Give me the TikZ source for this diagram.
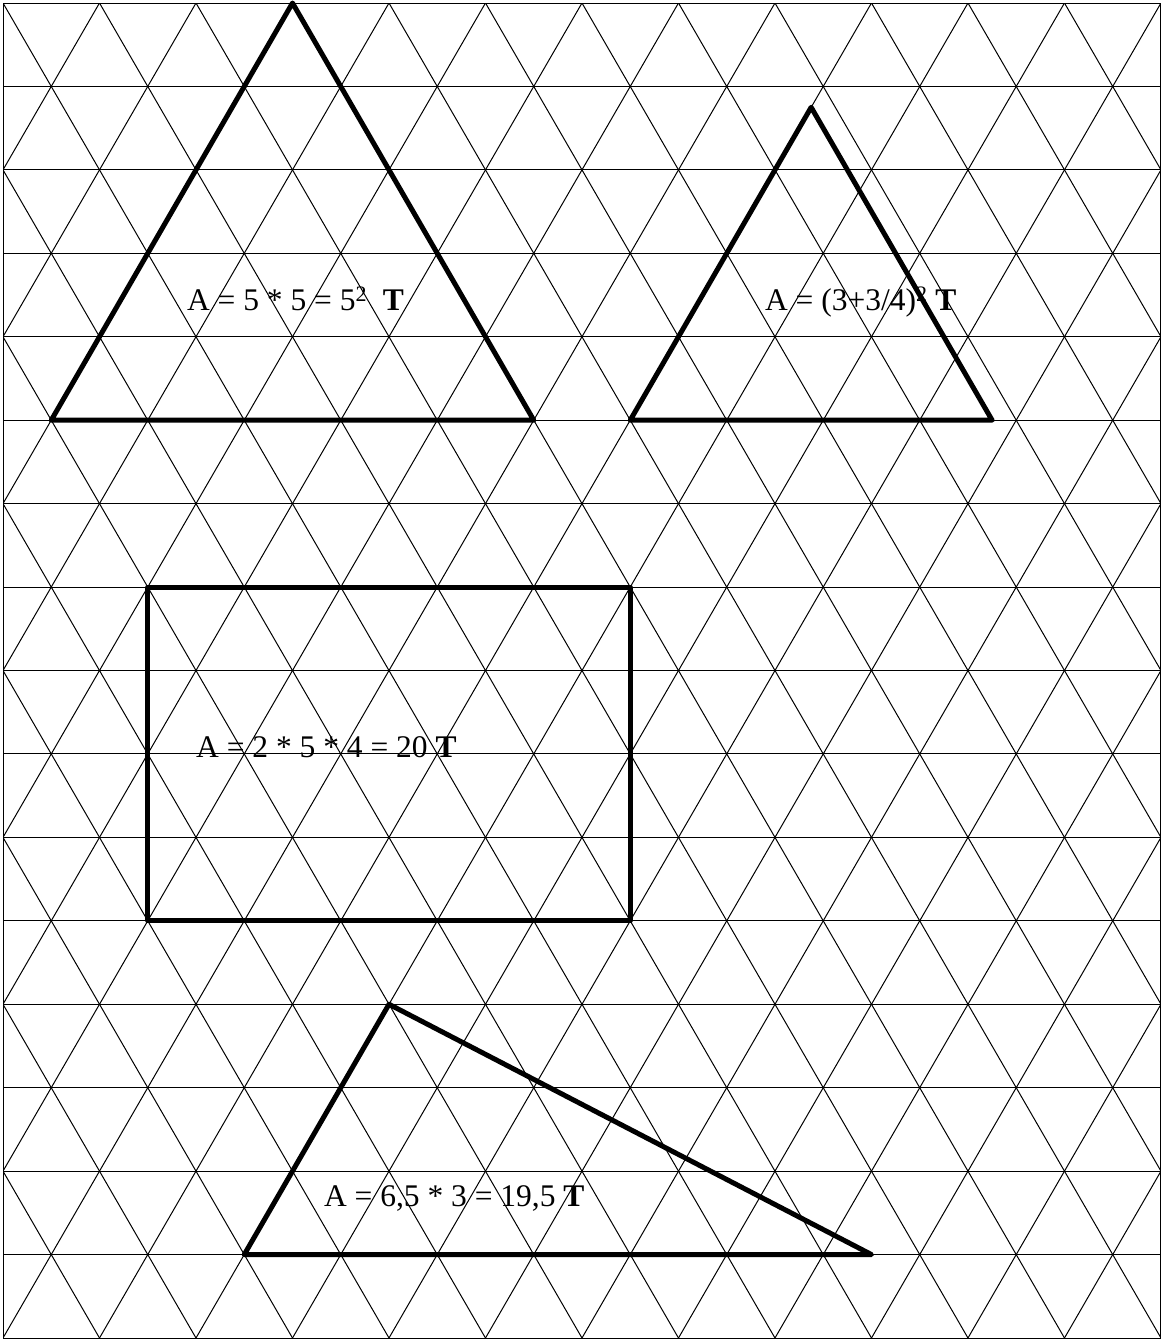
\documentclass[tikz,border=0pt]{standalone}
\usepackage{fontspec}
\setmainfont{Liberation Serif}
\tikzset{
  gridline/.style={black,line width=1pt},
  outline/.style={black,line width=5pt,line join=round,line cap=round},
  area/.style={anchor=base west,inner sep=0pt,font=\fontsize{31.5}{38}\selectfont}
}
\begin{document}
\begin{tikzpicture}[x=48.25pt,y=-83.44pt]
    \useasboundingbox (-0.0622,-0.036) rectangle (24.021,16.024);

    % Dreiecksgitter
    \begin{scope}
        \clip (0,0) rectangle (24,16);
        \foreach \r in {0,...,16}
            \draw[gridline] (0,\r) -- (24,\r);
        \foreach \c in {-16,-14,...,24}
            \draw[gridline] (\c,0) -- ++(16,16);
        \foreach \c in {0,2,...,40}
            \draw[gridline] (\c,0) -- ++(-16,16);
    \end{scope}
    \draw[gridline] (0,0) rectangle (24,16);

    % Flaechen
    \node[area] (areaBig) at (3.81,3.69) {A = 5 * 5 = 5\textsuperscript{2}\ \ \textbf{T}};
    \node[area] (areaSmall) at (15.79,3.69) {A = (3+3/4)\textsuperscript{2} \textbf{T}};
    \node[area] (areaRect) at (4.0,9.04) {A = 2 * 5 * 4 = 20 \textbf{T}};
    \node[area] (areaObtuse) at (6.65,14.42) {A = 6,5 * 3 = 19,5 \textbf{T}};

    % Figuren
    \draw[outline] (1,5) -- (11,5) -- (6,0) -- cycle;
    \draw[outline] (13,5) -- (20.5,5) -- (16.75,1.25) -- cycle;
    \draw[outline] (3,7) rectangle (13,11);
    \draw[outline] (5,15) -- (18,15) -- (8,12) -- cycle;
\end{tikzpicture}
\end{document}
